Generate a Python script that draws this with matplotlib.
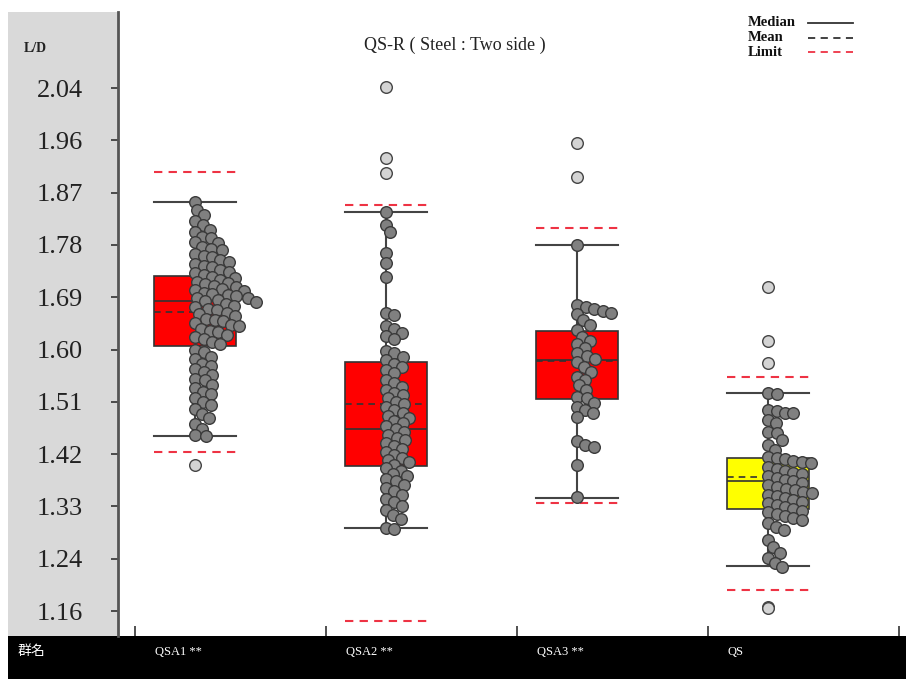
import numpy as np
import matplotlib
matplotlib.use('Agg')
import matplotlib.pyplot as plt
from matplotlib.lines import Line2D
from matplotlib.patches import Rectangle
from matplotlib.transforms import blended_transform_factory

# ---- data ----
groups = ['QSA1 **', 'QSA2 **', 'QSA3 **', 'QS']
box_colors = ['#ff0000', '#ff0000', '#ff0000', '#ffff00']

q1 = [1.606, 1.404, 1.516, 1.331]
q3 = [1.724, 1.579, 1.632, 1.418]
medians = [1.682, 1.466, 1.582, 1.378]
means = [1.663, 1.508, 1.580, 1.385]
whisker_lo = [1.454, 1.299, 1.351, 1.235]
whisker_hi = [1.848, 1.831, 1.776, 1.527]
limit_lo = [1.428, 1.143, 1.341, 1.195]
limit_hi = [1.899, 1.844, 1.805, 1.553]

points_qsa1 = [1.848, 1.834, 1.826, 1.816, 1.810, 1.802, 1.798, 1.790, 1.787, 1.781,
               1.779, 1.773, 1.770, 1.767, 1.760, 1.757, 1.755, 1.750, 1.748, 1.744,
               1.741, 1.739, 1.734, 1.731, 1.728, 1.725, 1.722, 1.721, 1.717, 1.714,
               1.712, 1.710, 1.707, 1.705, 1.702, 1.700, 1.699, 1.696, 1.693, 1.692,
               1.690, 1.687, 1.686, 1.683, 1.681, 1.680, 1.676, 1.674, 1.672, 1.668,
               1.666, 1.662, 1.659, 1.657, 1.652, 1.650, 1.648, 1.644, 1.641, 1.639,
               1.634, 1.632, 1.629, 1.625, 1.621, 1.617, 1.612, 1.609, 1.600, 1.596,
               1.588, 1.584, 1.576, 1.573, 1.568, 1.562, 1.558, 1.551, 1.548, 1.540,
               1.536, 1.529, 1.525, 1.519, 1.512, 1.506, 1.500, 1.491, 1.484, 1.475,
               1.466, 1.457, 1.454]
points_qsa2 = [1.831, 1.810, 1.797, 1.762, 1.746, 1.722, 1.662, 1.658, 1.640, 1.634,
               1.628, 1.622, 1.617, 1.598, 1.594, 1.588, 1.583, 1.576, 1.570, 1.566,
               1.560, 1.548, 1.544, 1.537, 1.532, 1.527, 1.523, 1.518, 1.512, 1.508,
               1.503, 1.498, 1.494, 1.489, 1.485, 1.480, 1.476, 1.471, 1.466, 1.462,
               1.457, 1.452, 1.447, 1.443, 1.438, 1.433, 1.428, 1.423, 1.418, 1.414,
               1.410, 1.406, 1.400, 1.396, 1.391, 1.387, 1.382, 1.378, 1.372, 1.367,
               1.362, 1.356, 1.349, 1.343, 1.336, 1.330, 1.322, 1.315, 1.300, 1.298]
points_qsa3 = [1.776, 1.675, 1.672, 1.668, 1.665, 1.662, 1.660, 1.650, 1.641, 1.633,
               1.621, 1.615, 1.609, 1.603, 1.594, 1.589, 1.584, 1.579, 1.570, 1.562,
               1.554, 1.549, 1.540, 1.532, 1.521, 1.518, 1.510, 1.504, 1.498, 1.493,
               1.486, 1.446, 1.440, 1.436, 1.406, 1.352]
points_qs = [1.527, 1.525, 1.498, 1.496, 1.494, 1.493, 1.481, 1.476, 1.461, 1.459,
             1.448, 1.440, 1.431, 1.419, 1.417, 1.415, 1.413, 1.411, 1.409, 1.402,
             1.399, 1.396, 1.393, 1.390, 1.387, 1.384, 1.380, 1.378, 1.375, 1.372,
             1.369, 1.366, 1.363, 1.361, 1.359, 1.356, 1.353, 1.350, 1.347, 1.344,
             1.341, 1.338, 1.335, 1.332, 1.329, 1.326, 1.323, 1.320, 1.317, 1.313,
             1.308, 1.302, 1.296, 1.279, 1.268, 1.258, 1.250, 1.241, 1.234]
all_points = [points_qsa1, points_qsa2, points_qsa3, points_qs]

outliers = [[1.406], [2.041, 1.922, 1.897], [1.948, 1.891], [1.705, 1.614, 1.578, 1.167, 1.165]]

ytick_labels = ['1.16', '1.24', '1.33', '1.42', '1.51', '1.60', '1.69', '1.78', '1.87', '1.96', '2.04']

# ---- layout ----
W, H = 906, 679
fig = plt.figure(figsize=(W / 100, H / 100), dpi=100)
serif = 'Liberation Serif'

# grey panel behind the y labels and black strip for group names
fig.patches.append(Rectangle((8 / W, (H - 636) / H), 110 / W, 624 / H,
                             transform=fig.transFigure, facecolor='#d9d9d9', edgecolor='none', zorder=-10))
fig.patches.append(Rectangle((8 / W, 0), (W - 8) / W, (H - 636) / H,
                             transform=fig.transFigure, facecolor='black', edgecolor='none', zorder=-10))

ax = fig.add_axes([118 / W, (H - 636) / H, (W - 118) / W, 624 / H])
ax.patch.set_alpha(0)

box_off = 60 / 191
box_w = 82 / 191
centers = [i + box_off for i in range(len(groups))]

stats = []
for i in range(len(groups)):
    stats.append(dict(med=medians[i], q1=q1[i], q3=q3[i], whislo=whisker_lo[i],
                      whishi=whisker_hi[i], mean=means[i], fliers=[]))

bp = ax.bxp(stats, positions=centers, widths=box_w, capwidths=box_w, patch_artist=True,
            showmeans=True, meanline=True, showfliers=False,
            boxprops=dict(edgecolor='#333333', linewidth=1.2),
            whiskerprops=dict(color='#444444', linewidth=1.5),
            capprops=dict(color='#444444', linewidth=1.5),
            medianprops=dict(color='#333333', linewidth=1.2),
            meanprops=dict(color='#333333', linewidth=1.2, linestyle=(0, (4, 3))))
for patch, c in zip(bp['boxes'], box_colors):
    patch.set_facecolor(c)

ax.set_ylim(1.118, 2.168)
ax.set_xlim(-17 / 191, (W - 135) / 191)

for s in ['top', 'right', 'bottom']:
    ax.spines[s].set_visible(False)
ax.spines['left'].set_color('#555555')
ax.spines['left'].set_linewidth(2)

yt = np.linspace(1.16, 2.04, len(ytick_labels))
ax.set_yticks(yt)
ax.set_yticklabels(ytick_labels, fontfamily=serif, fontsize=19, color='#222222')
ax.tick_params(axis='y', length=5, width=1.2, color='#333333', pad=20)
ax.set_xticks(range(len(groups) + 1))
ax.set_xticklabels([])
ax.tick_params(axis='x', direction='in', length=7, width=1.2, color='#333333')

for i, c in enumerate(centers):
    ax.hlines([limit_lo[i], limit_hi[i]], c - box_w / 2, c + box_w / 2,
              colors='#ee3344', linewidth=1.5, linestyles=(0, (4, 3)), zorder=3)

# one-sided swarm in pixel space
px_x = (W - 118) / (ax.get_xlim()[1] - ax.get_xlim()[0])
px_y = 624 / (2.168 - 1.118)
diam = 8.4


def swarm(values):
    placed = []
    offs = []
    for v in sorted(values, reverse=True):
        y = v * px_y
        dx = 0.0
        while any((dx - px) ** 2 + (y - py) ** 2 < diam ** 2 for px, py in placed):
            dx += 0.5
        placed.append((dx, y))
        offs.append(dx / px_x)
    return sorted(values, reverse=True), offs


for c, pts in zip(centers, all_points):
    vals, offs = swarm(pts)
    ax.scatter(np.array(offs) + c, vals, s=70, facecolor='#808080', edgecolor='#3a3a3a',
               linewidth=1.0, zorder=5)

for c, outs in zip(centers, outliers):
    ax.scatter([c] * len(outs), outs, s=70, facecolor='#d4d4d4', edgecolor='#444444',
               linewidth=1.0, zorder=5)

# group names in the black strip
tr = blended_transform_factory(ax.transData, fig.transFigure)
for i, g in enumerate(groups):
    ax.text(i + 20 / 191, 1 - 652 / H, g, transform=tr, color='white', fontsize=9,
            fontfamily=serif, va='center', ha='left', clip_on=False)
fig.text(18 / W, 1 - 651 / H, '群名', color='white', fontsize=10,
         fontfamily=['Noto Sans CJK JP', 'DejaVu Sans'], va='center', ha='left')

fig.text(24 / W, 1 - 48 / H, 'L/D', fontsize=10, fontweight='bold', fontfamily=serif,
         va='center', ha='left', color='#222222')
fig.text(455 / W, 1 - 45 / H, 'QS-R ( Steel : Two side )', fontsize=13, fontfamily=serif,
         va='center', ha='center', color='#222222')

# legend
leg_items = [('Median', '#333333', '-'), ('Mean', '#333333', (0, (4, 3))), ('Limit', '#ee3344', (0, (4, 3)))]
for k, (name, col, ls) in enumerate(leg_items):
    yy = 1 - (23 + k * 14.5) / H
    fig.text(748 / W, yy, name, fontsize=10.5, fontweight='bold', fontfamily=serif,
             va='center', ha='left', color='#111111')
    fig.add_artist(Line2D([808 / W, 853 / W], [yy, yy], transform=fig.transFigure,
                          color=col, linestyle=ls, linewidth=1.3))

fig.savefig('out.png', dpi=100)
